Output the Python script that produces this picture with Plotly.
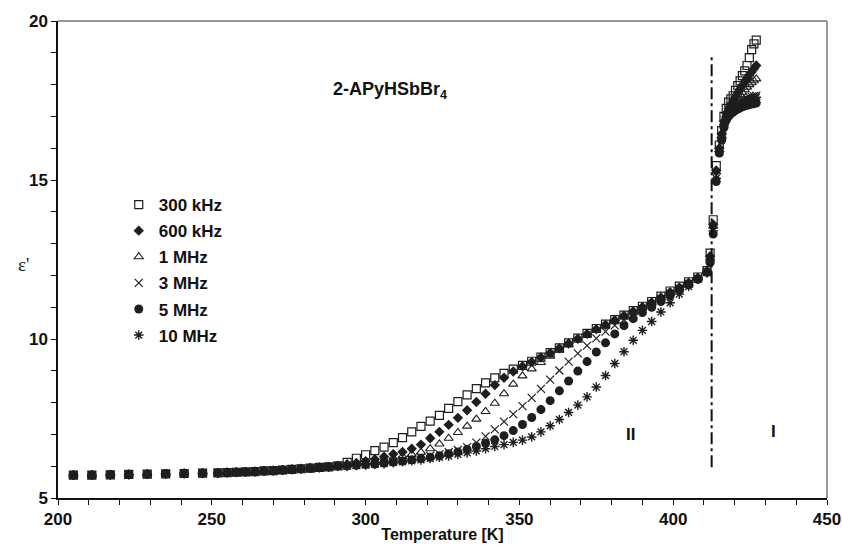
import plotly.graph_objects as go

# ---------------- data ----------------
# shared low-temperature baseline (all frequencies overlap)
T_base = [205, 211, 217, 223, 229, 235, 241, 247,
          252, 255, 258, 261, 264, 267, 270, 273, 276, 279, 282, 285, 288, 291]
eps_base = [5.72, 5.72, 5.73, 5.74, 5.75, 5.76, 5.77, 5.78,
            5.79, 5.80, 5.81, 5.82, 5.83, 5.85, 5.86, 5.88, 5.90, 5.92, 5.94, 5.96, 5.98, 6.01]

# phase II, dispersion region
T_mid = [294, 297, 300, 303, 306, 309, 312, 315, 318, 321,
         324, 327, 330, 333, 336, 339, 342, 345, 348, 351,
         354, 357, 360, 363, 366, 369, 372, 375, 378, 381,
         384, 387, 390, 393, 396, 399, 402, 405, 408, 411]

eps_300k_mid = [6.12, 6.25, 6.36, 6.49, 6.60, 6.74, 6.90, 7.08, 7.25, 7.42,
                7.60, 7.82, 8.03, 8.24, 8.44, 8.62, 8.78, 8.92, 9.05, 9.17,
                9.30, 9.43, 9.57, 9.72, 9.88, 10.03, 10.18, 10.33, 10.47, 10.61,
                10.75, 10.89, 11.03, 11.18, 11.35, 11.51, 11.66, 11.80, 11.95, 12.15]
eps_600k_mid = [6.06, 6.10, 6.16, 6.22, 6.30, 6.38, 6.45, 6.55, 6.68, 6.88,
                7.08, 7.30, 7.52, 7.76, 8.02, 8.28, 8.55, 8.78, 8.98, 9.14,
                9.28, 9.42, 9.56, 9.71, 9.86, 10.01, 10.16, 10.31, 10.45, 10.59,
                10.73, 10.87, 11.01, 11.15, 11.31, 11.47, 11.62, 11.77, 11.93, 12.14]
eps_1M_mid = [6.04, 6.07, 6.10, 6.14, 6.19, 6.25, 6.31, 6.37, 6.44, 6.55,
              6.70, 6.88, 7.06, 7.26, 7.48, 7.72, 7.98, 8.28, 8.58, 8.84,
              9.06, 9.26, 9.46, 9.65, 9.83, 10.00, 10.14, 10.29, 10.43, 10.57,
              10.71, 10.85, 10.99, 11.14, 11.29, 11.44, 11.59, 11.75, 11.91, 12.13]
eps_3M_mid = [6.02, 6.04, 6.06, 6.09, 6.12, 6.15, 6.19, 6.23, 6.28, 6.33,
              6.38, 6.44, 6.51, 6.60, 6.74, 6.94, 7.16, 7.40, 7.64, 7.89,
              8.15, 8.43, 8.72, 9.01, 9.29, 9.55, 9.79, 10.02, 10.23, 10.43,
              10.61, 10.78, 10.94, 11.10, 11.26, 11.42, 11.58, 11.74, 11.90, 12.11]
eps_5M_mid = [6.01, 6.03, 6.05, 6.07, 6.10, 6.13, 6.16, 6.20, 6.24, 6.28,
              6.33, 6.39, 6.45, 6.53, 6.62, 6.72, 6.83, 6.96, 7.12, 7.31,
              7.53, 7.78, 8.06, 8.37, 8.68, 8.99, 9.29, 9.59, 9.88, 10.16,
              10.42, 10.64, 10.83, 11.00, 11.18, 11.36, 11.53, 11.70, 11.88, 12.10]
eps_10M_mid = [6.00, 6.02, 6.04, 6.06, 6.08, 6.11, 6.14, 6.17, 6.20, 6.24,
               6.28, 6.32, 6.37, 6.42, 6.48, 6.55, 6.62, 6.68, 6.75, 6.82,
               6.92, 7.08, 7.27, 7.47, 7.69, 7.92, 8.18, 8.49, 8.85, 9.23,
               9.60, 9.96, 10.27, 10.55, 10.85, 11.14, 11.41, 11.65, 11.88, 12.08]

# transition and phase I
T_high = [412, 413, 414, 415, 415.75, 416.5, 417.25, 418, 418.75, 419.5,
          420.25, 421, 421.75, 422.5, 423.25, 424, 424.75, 425.5, 426.25, 427]
eps_300k_high = [12.7, 13.75, 15.45, 16.1, 16.55, 17.0, 17.25, 17.45, 17.55, 17.65,
                 17.82, 17.97, 18.12, 18.28, 18.43, 18.6, 18.85, 19.1, 19.28, 19.4]
eps_600k_high = [12.6, 13.6, 15.3, 16.0, 16.45, 16.85, 17.1, 17.25, 17.38, 17.5,
                 17.62, 17.74, 17.86, 17.98, 18.1, 18.2, 18.3, 18.4, 18.5, 18.6]
eps_1M_high = [12.55, 13.55, 15.25, 15.95, 16.4, 16.8, 17.05, 17.2, 17.3, 17.4,
               17.5, 17.6, 17.68, 17.76, 17.84, 17.92, 18.0, 18.06, 18.12, 18.18]
eps_3M_high = [12.5, 13.45, 15.15, 15.9, 16.35, 16.75, 16.98, 17.12, 17.2, 17.28,
               17.34, 17.4, 17.45, 17.5, 17.54, 17.57, 17.6, 17.62, 17.64, 17.65]
eps_5M_high = [12.4, 13.3, 14.95, 15.85, 16.25, 16.65, 16.88, 17.0, 17.08, 17.14,
               17.19, 17.23, 17.27, 17.3, 17.33, 17.35, 17.37, 17.39, 17.4, 17.42]
eps_10M_high = [12.45, 13.4, 15.05, 15.9, 16.3, 16.7, 16.95, 17.08, 17.16, 17.22,
                17.28, 17.33, 17.38, 17.42, 17.46, 17.5, 17.53, 17.56, 17.58, 17.6]

series_names = ["300 kHz", "600 kHz", "1 MHz", "3 MHz", "5 MHz", "10 MHz"]
mid_values = [eps_300k_mid, eps_600k_mid, eps_1M_mid, eps_3M_mid, eps_5M_mid, eps_10M_mid]
high_values = [eps_300k_high, eps_600k_high, eps_1M_high, eps_3M_high, eps_5M_high, eps_10M_high]

T_transition = 412.5
x_ticks = [200, 250, 300, 350, 400, 450]
y_ticks = [5, 10, 15, 20]

# ---------------- styles ----------------
INK = "#1e1e1e"
styles = [
    dict(symbol="square-open", size=8, line=dict(width=1.2, color=INK)),
    dict(symbol="diamond", size=8, line=dict(width=0)),
    dict(symbol="triangle-up-open", size=8, line=dict(width=1.1, color=INK)),
    dict(symbol="x-thin-open", size=8, line=dict(width=1.2, color=INK)),
    dict(symbol="circle", size=9, line=dict(width=0)),
    dict(symbol="asterisk-open", size=8, line=dict(width=1.4, color=INK)),
]

FONT = "Liberation Sans, Arial, sans-serif"

fig = go.Figure()
for name, mid, high, st in zip(series_names, mid_values, high_values, styles):
    fig.add_trace(go.Scatter(
        x=T_base + T_mid + T_high,
        y=eps_base + mid + high,
        mode="markers",
        name=name,
        legendgroup=name,
        marker=dict(color=INK, **st),
    ))

# dash-dot transition line
fig.add_shape(type="line", xref="x", yref="y",
              x0=T_transition, x1=T_transition, y0=5.97, y1=18.9,
              line=dict(color="#111", width=2, dash="12px,4px,3px,4px"))
# grey top / right frame
fig.add_shape(type="line", xref="paper", yref="paper", x0=0, x1=1, y0=1, y1=1,
              line=dict(color="#777", width=1.5))
fig.add_shape(type="line", xref="paper", yref="paper", x0=1, x1=1, y0=0, y1=1,
              line=dict(color="#777", width=1.5))

fig.add_annotation(x=308, y=17.8, xref="x", yref="y", showarrow=False,
                   text="<b>2-APyHSbBr<sub>4</sub></b>",
                   font=dict(family=FONT, size=18, color="#111"))
fig.add_annotation(x=386, y=7.0, xref="x", yref="y", showarrow=False,
                   text="<b>II</b>", font=dict(family=FONT, size=17, color="#111"))
fig.add_annotation(x=432.5, y=7.1, xref="x", yref="y", showarrow=False,
                   text="<b>I</b>", font=dict(family=FONT, size=17, color="#111"))
fig.add_annotation(x=-0.055, y=0.49, xref="paper", yref="paper", showarrow=False,
                   text="ε'", font=dict(family="Liberation Serif, serif", size=19, color="#222"))

axis_common = dict(
    showgrid=False, zeroline=False, showline=True, linecolor="#111", linewidth=1.5,
    ticks="outside", ticklen=5, tickwidth=1, tickcolor="#111",
    tickfont=dict(family=FONT, size=17, color="#111"),
    mirror=False, automargin=False,
)

fig.update_xaxes(range=[200, 450], tickmode="array", tickvals=x_ticks,
                 ticktext=[f"<b>{v}</b>" for v in x_ticks],
                 minor=dict(dtick=10, ticks="outside", ticklen=5, tickcolor="#111", tickwidth=1),
                 title=dict(text="<b>Temperature [K]</b>", standoff=1,
                            font=dict(family=FONT, size=16, color="#111")),
                 **axis_common)
fig.update_yaxes(range=[5, 20], tickmode="array", tickvals=y_ticks,
                 ticktext=[f"<b>{v}</b>" for v in y_ticks],
                 minor=dict(dtick=1, ticks="outside", ticklen=5, tickcolor="#111", tickwidth=1),
                 **axis_common)

fig.update_layout(
    width=842, height=551,
    margin=dict(l=58, r=15, t=21, b=53),
    plot_bgcolor="white", paper_bgcolor="white",
    showlegend=True,
    legend=dict(x=0.079, y=0.652, xanchor="left", yanchor="top",
                bgcolor="rgba(0,0,0,0)", tracegroupgap=1, traceorder="grouped",
                font=dict(family=FONT, size=17, color="#111", weight="bold"),
                itemsizing="trace"),
    font=dict(family=FONT),
)

# remove the browser's default 8px page margin so the figure sits at the window origin
fig.write_html("out.html",
               config={"displayModeBar": False},
               post_script="document.body.style.margin='0';document.body.style.overflow='hidden';")
